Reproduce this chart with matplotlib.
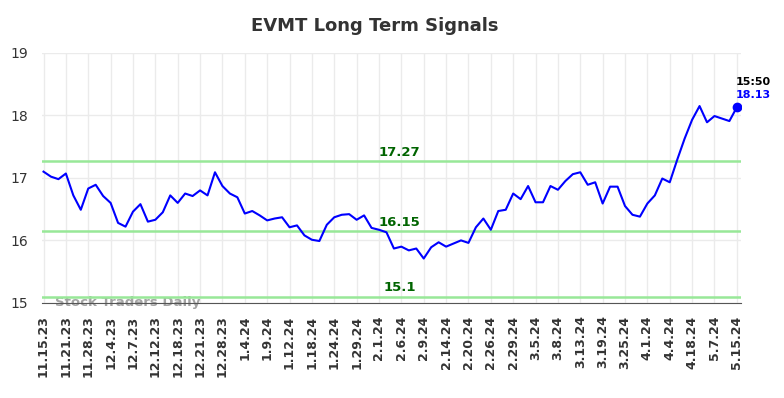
import matplotlib
matplotlib.use('Agg')
from matplotlib import pyplot as plt

# Valores de cierre (uno por sesión)
prices = [17.10, 17.02, 16.98, 17.07, 16.72, 16.49, 16.83, 16.89, 16.71, 16.60,
          16.28, 16.22, 16.46, 16.58, 16.30, 16.33, 16.45, 16.72, 16.60, 16.75,
          16.71, 16.80, 16.72, 17.09, 16.87, 16.75, 16.69, 16.43, 16.47, 16.40,
          16.32, 16.35, 16.37, 16.21, 16.24, 16.08, 16.01, 15.99, 16.25, 16.37,
          16.41, 16.42, 16.33, 16.40, 16.20, 16.17, 16.13, 15.87, 15.90, 15.84,
          15.87, 15.71, 15.89, 15.97, 15.90, 15.95, 16.00, 15.96, 16.21, 16.35,
          16.17, 16.47, 16.49, 16.75, 16.66, 16.87, 16.61, 16.61, 16.87, 16.81,
          16.95, 17.06, 17.09, 16.89, 16.93, 16.59, 16.86, 16.86, 16.55, 16.41,
          16.38, 16.59, 16.72, 16.99, 16.93, 17.29, 17.63, 17.93, 18.15, 17.89,
          17.99, 17.95, 17.91, 18.13]

tick_labels = ['11.15.23', '11.21.23', '11.28.23', '12.4.23', '12.7.23', '12.12.23',
               '12.18.23', '12.21.23', '12.28.23', '1.4.24', '1.9.24', '1.12.24',
               '1.18.24', '1.24.24', '1.29.24', '2.1.24', '2.6.24', '2.9.24',
               '2.14.24', '2.20.24', '2.26.24', '2.29.24', '3.5.24', '3.8.24',
               '3.13.24', '3.19.24', '3.25.24', '4.1.24', '4.4.24', '4.18.24',
               '5.7.24', '5.15.24']

signal_levels = [17.27, 16.15, 15.1]
signal_labels = ['17.27', '16.15', '15.1']
last_time = '15:50'

x = list(range(len(prices)))
tick_pos = x[::3]

fig = plt.figure(figsize=(7.84, 3.98), dpi=100)
ax = fig.add_axes([0.0536, 0.239, 0.891, 0.628])

for lvl, lab in zip(signal_levels, signal_labels):
    ax.axhline(lvl, color='#98e898', linewidth=1.8, zorder=2)
    ax.text(47.8, lvl + 0.04, lab, color='#006400', fontsize=9.5, fontweight='bold',
            ha='center', va='bottom', zorder=4)

ax.plot(x, prices, color='#0000ff', linewidth=1.5, zorder=3)
ax.plot(x[-1], prices[-1], 'o', color='#0000ff', markersize=6, zorder=5)
ax.text(x[-1] - 0.2, prices[-1] + 0.33, last_time, color='black', fontsize=8,
        fontweight='bold', ha='left', va='bottom')
ax.text(x[-1] - 0.2, prices[-1] + 0.12, '%.2f' % prices[-1], color='#0000ff', fontsize=8,
        fontweight='bold', ha='left', va='bottom')

ax.text(1.5, 15.0, 'Stock Traders Daily', color='#999999', fontsize=9.5,
        fontweight='bold', ha='left', va='center', alpha=0.9, zorder=1)

ax.set_xlim(-0.2, 93.5)
ax.set_ylim(15, 19)
ax.set_yticks([15, 16, 17, 18, 19])
ax.set_xticks(tick_pos)
ax.set_xticklabels(tick_labels, rotation=90, fontsize=9, fontweight='bold', color='#333333')
ax.tick_params(axis='y', length=0, labelsize=10, colors='#333333', pad=10)
ax.tick_params(axis='x', length=0, pad=9)
ax.grid(True, color='#ebebeb', linewidth=1)
ax.set_axisbelow(True)
for s in ['top', 'right', 'left']:
    ax.spines[s].set_visible(False)
ax.spines['bottom'].set_color('#555555')

ax.set_title('EVMT Long Term Signals', fontsize=13, fontweight='bold', color='#333333',
             pad=16, x=0.477)

plt.savefig('out.png', dpi=100)
plt.close()
